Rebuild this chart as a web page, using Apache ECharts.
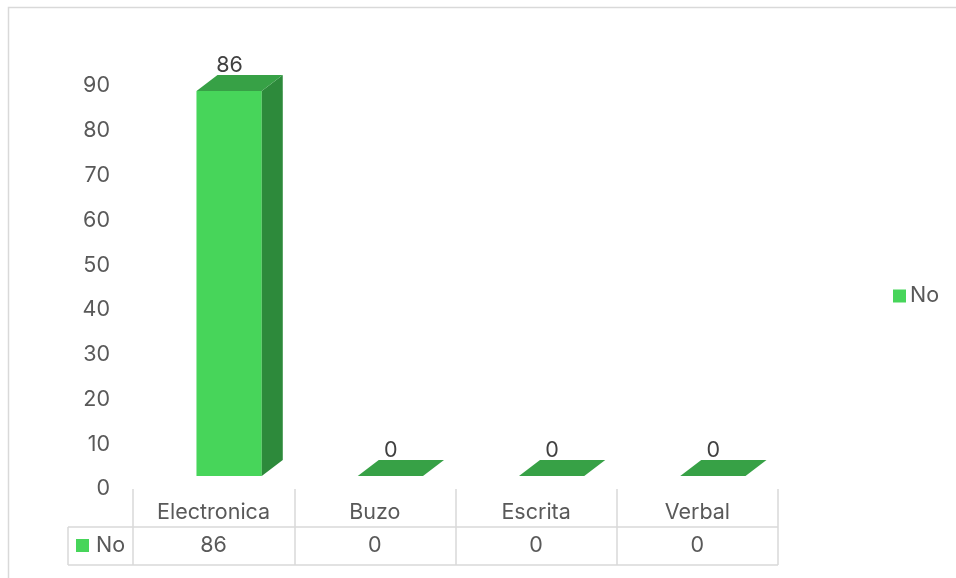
<!DOCTYPE html>
<html>
<head>
<meta charset="utf-8">
<script src="https://cdn.jsdelivr.net/npm/echarts@6/dist/echarts.min.js"></script>
<style>html,body{margin:0;padding:0;background:#fff;}#c{width:956px;height:578px;}</style>
</head>
<body>
<div id="c"></div>
<script>
const categories = ['Electronica', 'Buzo', 'Escrita', 'Verbal'];
const seriesName = 'No';
const values = [86, 0, 0, 0];
const yTicks = [0, 10, 20, 30, 40, 50, 60, 70, 80, 90];

const FONT = 'Inter, "Open Sans", sans-serif';
const FS = 21.5;
const FRONT = '#47d55a', SIDE = '#2d8a3b', TOP = '#37a146';
const chart = echarts.init(document.getElementById('c'));

function renderItem(params, api) {
  const idx = api.value(0), v = api.value(1);
  const base = api.coord([idx, 0]);
  const top = api.coord([idx, v]);
  const bw = api.size([1, 0])[0] * 0.405;
  const ox = 15.5, oy = -13, dx = 21, dy = -16;
  const x0 = base[0] + ox - bw / 2, x1 = x0 + bw;
  const yb = base[1] + oy, yt = top[1] + oy;
  const children = [];
  if (yb - yt > 0.5) {
    children.push({type: 'polygon', shape: {points: [[x0, yt], [x1, yt], [x1, yb], [x0, yb]]}, style: {fill: FRONT}});
    children.push({type: 'polygon', shape: {points: [[x1, yt], [x1 + dx, yt + dy], [x1 + dx, yb + dy], [x1, yb]]}, style: {fill: SIDE}});
  }
  children.push({type: 'polygon', shape: {points: [[x0, yt], [x0 + dx, yt + dy], [x1 + dx, yt + dy], [x1, yt]]}, style: {fill: TOP}});
  children.push({type: 'text', style: {x: x0 + bw / 2 + 0.5, y: yt + dy + 2, text: String(v), fill: '#404040', font: FS + 'px ' + FONT, align: 'center', verticalAlign: 'bottom'}});
  return {type: 'group', children};
}

chart.setOption({
  animation: false,
  backgroundColor: '#fff',
  grid: {left: 133, right: 178, top: 86, bottom: 89},
  legend: {
    data: [seriesName], left: 888, top: 280, icon: 'rect', itemWidth: 13, itemHeight: 13, itemGap: 5,
    textStyle: {color: '#595959', fontSize: FS, fontFamily: FONT, padding: [0, 0, 0, -1]}
  },
  xAxis: {
    type: 'category', data: categories,
    axisLine: {show: false},
    axisTick: {show: true, length: 76, lineStyle: {color: '#d9d9d9', width: 1.5}},
    axisLabel: {
      margin: 11, interval: 0,
      formatter: (val, i) => '{a|' + val + '}\n{b|' + values[i] + '}',
      rich: {
        a: {fontSize: FS, fontFamily: FONT, color: '#595959', lineHeight: 26, height: 26},
        b: {fontSize: FS, fontFamily: FONT, color: '#595959', lineHeight: 40, height: 40, verticalAlign: 'bottom'}
      }
    }
  },
  yAxis: {
    type: 'value', min: yTicks[0], max: yTicks[yTicks.length - 1], interval: 10,
    axisLine: {show: false}, axisTick: {show: false}, splitLine: {show: false},
    axisLabel: {margin: 23, fontSize: FS, fontFamily: FONT, color: '#595959'}
  },
  series: [{
    name: seriesName, type: 'custom', itemStyle: {color: FRONT},
    renderItem, data: values.map((v, i) => [i, v]), z: 3
  }],
  graphic: [
    {type: 'rect', shape: {x: 8.5, y: 7.5, width: 1000, height: 700}, style: {fill: 'none', stroke: '#d9d9d9', lineWidth: 1.5}, silent: true},
    {type: 'line', shape: {x1: 68, y1: 527, x2: 778, y2: 527}, style: {stroke: '#d9d9d9', lineWidth: 1.5}},
    {type: 'line', shape: {x1: 68, y1: 565, x2: 778, y2: 565}, style: {stroke: '#d9d9d9', lineWidth: 1.5}},
    {type: 'line', shape: {x1: 68, y1: 527, x2: 68, y2: 565}, style: {stroke: '#d9d9d9', lineWidth: 1.5}},
    {type: 'rect', shape: {x: 76, y: 539, width: 13, height: 13}, style: {fill: FRONT}},
    {type: 'text', style: {x: 96, y: 546, text: seriesName, fill: '#595959', font: FS + 'px ' + FONT, verticalAlign: 'middle'}}
  ]
});
</script>
</body>
</html>
